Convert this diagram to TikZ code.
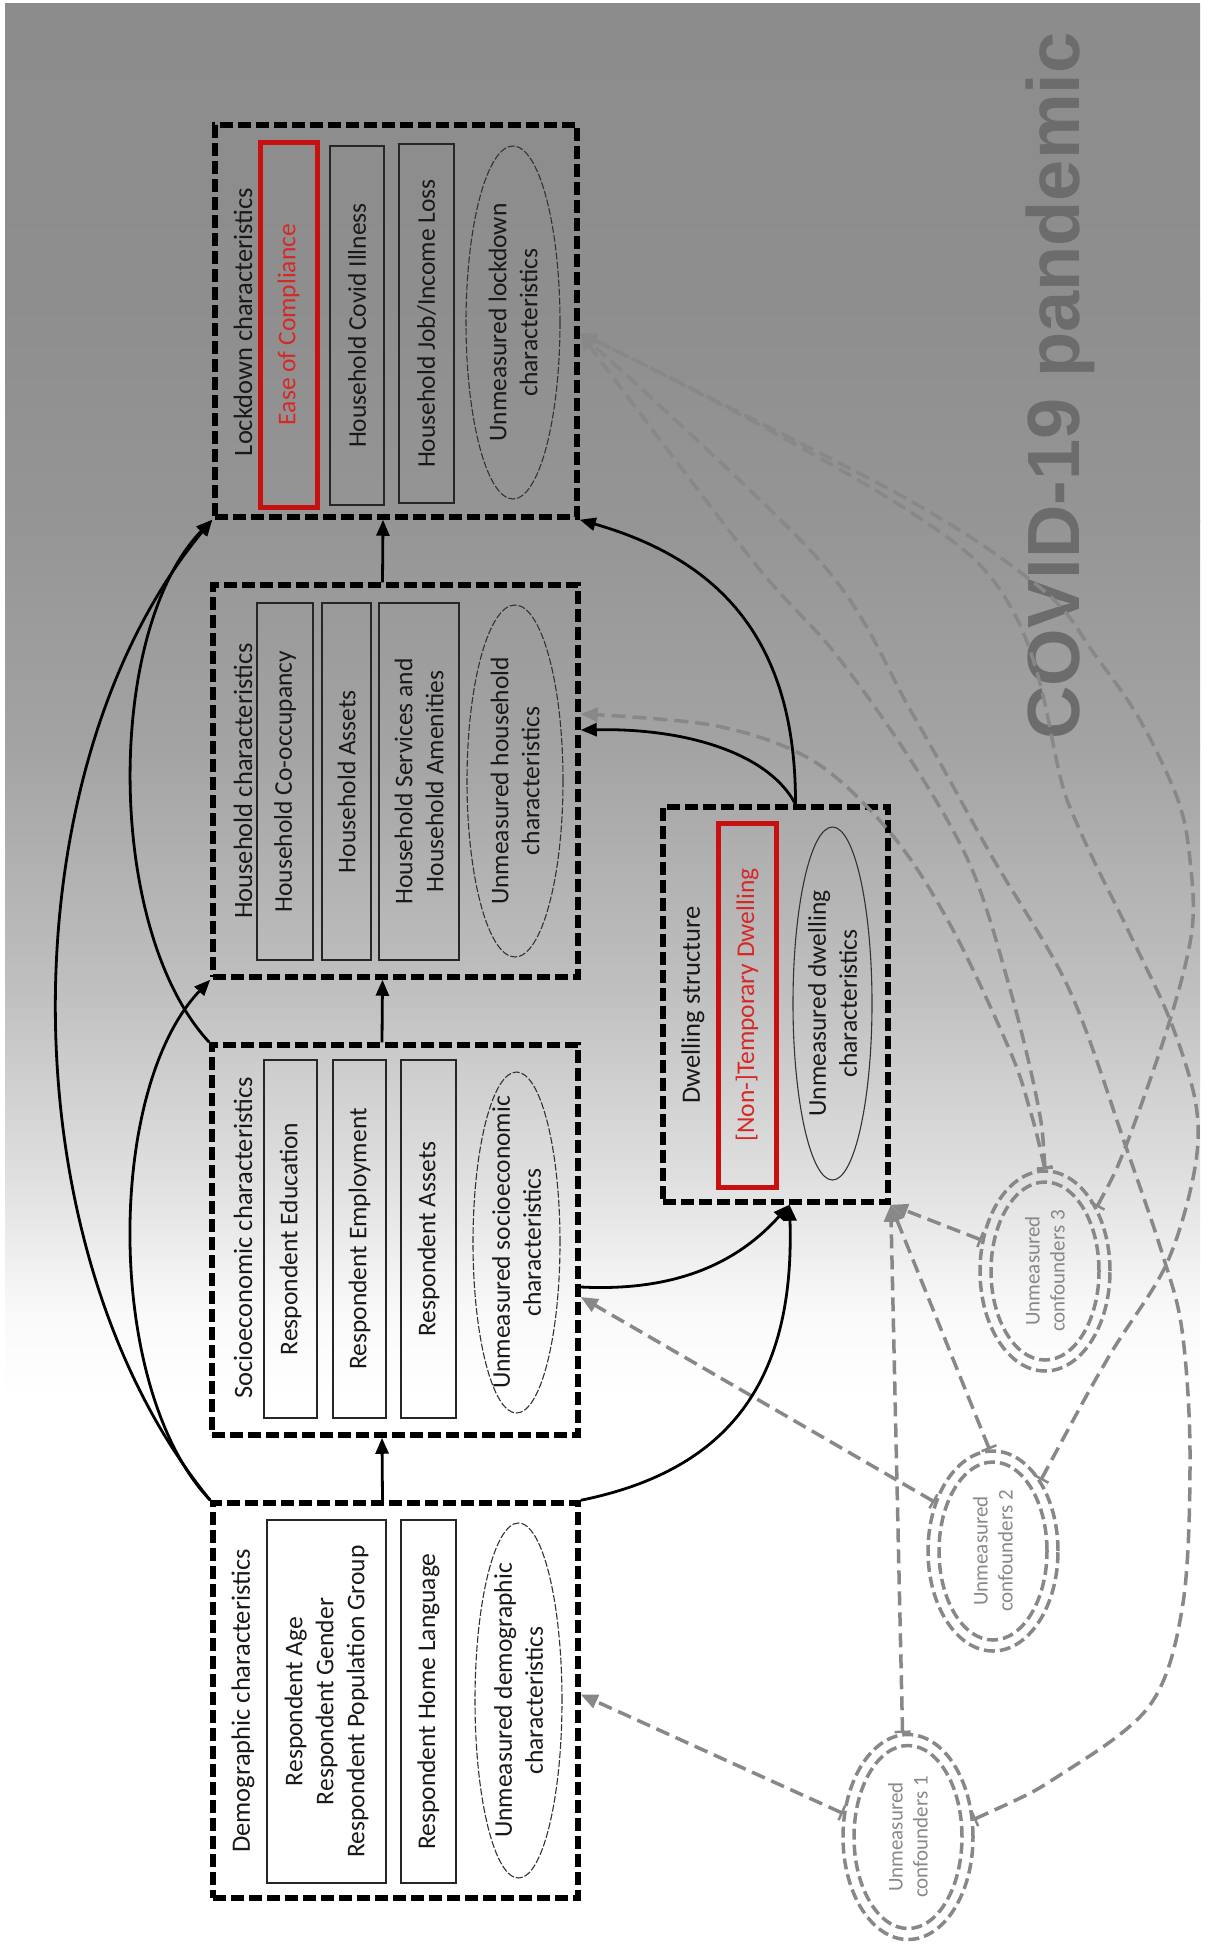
\documentclass[tikz,border=0pt]{standalone}
\usepackage{fontspec}
\setmainfont{Carlito}
\newfontfamily\arialfont{Liberation Sans}
\usetikzlibrary{arrows.meta,shapes.geometric}
\definecolor{bgA}{RGB}{140,140,140}
\definecolor{bgB}{RGB}{142,142,142}
\definecolor{bgC}{RGB}{149,149,149}
\definecolor{bgD}{RGB}{163,163,163}
\definecolor{bgE}{RGB}{192,192,192}
\definecolor{bgF}{RGB}{224,224,224}
\definecolor{bgG}{RGB}{249,249,249}
\definecolor{ucgray}{RGB}{136,136,136}
\definecolor{boxred}{RGB}{200,16,16}
\definecolor{txtred}{RGB}{215,40,40}
\definecolor{textdark}{RGB}{25,25,25}
\definecolor{titlegray}{RGB}{108,108,108}
\newcommand\myitemfont{\fontsize{25.5}{31}\selectfont}
\newcommand\mytitlefont{\fontsize{26.5}{31}\selectfont}
\newcommand\myucfont{\fontsize{21}{25}\selectfont}
\begin{document}
\begin{tikzpicture}[x=1pt,y=-1pt,
  grp/.style={draw=black, line width=5.5pt, dash pattern=on 13pt off 5pt, inner sep=0pt},
  itembox/.style={draw=black!85, line width=1.3pt, rotate=90, inner sep=0pt, align=center, font=\myitemfont, text=textdark},
  redbox/.style={itembox, draw=boxred, line width=5pt, text=txtred},
  unm/.style={ellipse, draw=black!80, line width=1.1pt, dash pattern=on 7pt off 2pt, inner sep=0pt},
  unmtext/.style={rotate=90, align=center, font=\myitemfont, text=textdark},
  grptitle/.style={rotate=90, font=\mytitlefont, text=textdark},
  blk/.style={line width=2.8pt, -{Triangle[length=16pt,width=13pt]}},
  gry/.style={draw=ucgray, line width=3.5pt, dash pattern=on 14pt off 7pt, {Bar[width=16pt,line width=2.5pt]}-{Triangle[length=17pt,width=14pt]}},
  ucring/.style={ellipse, draw=ucgray, line width=3.5pt, dash pattern=on 11pt off 5pt, inner sep=0pt},
  uctext/.style={rotate=90, align=center, font=\myucfont, text=ucgray}
]
\useasboundingbox (0,0) rectangle (1210,1946);
% background
\fill[white] (0,0) rectangle (1210,1946);
\shade[top color=bgA, bottom color=bgB] (5,3) rectangle (1200,301);
\shade[top color=bgB, bottom color=bgC] (5,300) rectangle (1200,521);
\shade[top color=bgC, bottom color=bgD] (5,520) rectangle (1200,746);
\shade[top color=bgD, bottom color=bgE] (5,745) rectangle (1200,994);
\shade[top color=bgE, bottom color=bgF] (5,993) rectangle (1200,1181);
\shade[top color=bgF, bottom color=bgG] (5,1180) rectangle (1200,1311);
\shade[top color=bgG, bottom color=white] (5,1310) rectangle (1200,1400);

% title
\node[rotate=90, font=\arialfont\bfseries\fontsize{74}{74}\selectfont, text=titlegray, inner sep=0pt] (covid) at (1060,386) {COVID-19 pandemic};

% group boxes
\node[grp, minimum width=362, minimum height=392] (lock) at (396,321) {};
\node[grp, minimum width=365, minimum height=392] (hh) at (395.5,781) {};
\node[grp, minimum width=366, minimum height=390] (socio) at (395,1240) {};
\node[grp, minimum width=365, minimum height=395] (dem) at (395.5,1700.5) {};
\node[grp, minimum width=225, minimum height=395] (dwell) at (775.5,1004.5) {};

% lockdown
\node[grptitle] (lockT) at (243,322) {Lockdown characteristics};
\node[redbox, minimum width=365, minimum height=57] (lc1) at (288.5,324.5) {Ease of Compliance};
\node[itembox, minimum width=359, minimum height=54] (lc2) at (357,325.5) {Household Covid Illness};
\node[itembox, minimum width=359, minimum height=55] (lc3) at (426.5,323.5) {Household Job/Income Loss};
\node[unm, minimum width=94, minimum height=353] (lce) at (513,322.5) {};
\node[unmtext] (lcet) at (lce) {Unmeasured lockdown\\characteristics};

% household
\node[grptitle] (hhT) at (243,781) {Household characteristics};
\node[itembox, minimum width=357, minimum height=56] (hc1) at (285,781.5) {Household Co-occupancy};
\node[itembox, minimum width=357, minimum height=49] (hc2) at (346.5,781.5) {Household Assets};
\node[itembox, minimum width=357, minimum height=80] (hc3) at (419,781.5) {Household Services and\\Household Amenities};
\node[unm, minimum width=96, minimum height=352] (hce) at (515,781) {};
\node[unmtext] (hcet) at (hce) {Unmeasured household\\characteristics};

% socioeconomic
\node[grptitle] (socT) at (243,1238) {Socioeconomic characteristics};
\node[itembox, minimum width=358, minimum height=53] (sc1) at (290.5,1239) {Respondent Education};
\node[itembox, minimum width=358, minimum height=53] (sc2) at (359.5,1239) {Respondent Employment};
\node[itembox, minimum width=358, minimum height=55] (sc3) at (428.5,1239) {Respondent Assets};
\node[unm, minimum width=87, minimum height=341] (sce) at (516.5,1242.5) {};
\node[unmtext] (scet) at (sce) {Unmeasured socioeconomic\\characteristics};

% demographic
\node[grptitle] (demT) at (243,1701) {Demographic characteristics};
\node[itembox, minimum width=363, minimum height=119] (dc1) at (326.5,1701.5) {Respondent Age\\Respondent Gender\\Respondent Population Group};
\node[itembox, minimum width=363, minimum height=55] (dc2) at (428.5,1701.5) {Respondent Home Language};
\node[unm, minimum width=87, minimum height=355] (dce) at (518.5,1700.5) {};
\node[unmtext] (dcet) at (dce) {Unmeasured demographic\\characteristics};

% dwelling
\node[grptitle] (dwT) at (693,1005) {Dwelling structure};
\node[redbox, minimum width=364, minimum height=58] (wc1) at (747,1005) {[Non-]Temporary Dwelling};
\node[unm, minimum width=79, minimum height=353, solid] (wce) at (832.5,1003.5) {};
\node[unmtext] (wcet) at (wce) {Unmeasured dwelling\\characteristics};

% unmeasured confounders
\node[ucring, minimum width=130, minimum height=205] (uc1) at (908,1837) {};
\node[ucring, minimum width=108, minimum height=183] (uc1i) at (908,1837) {};
\node[uctext] (uc1t) at (uc1) {Unmeasured\\confounders 1};
\node[ucring, minimum width=130, minimum height=200] (uc2) at (993,1551) {};
\node[ucring, minimum width=108, minimum height=178] (uc2i) at (993,1551) {};
\node[uctext] (uc2t) at (uc2) {Unmeasured\\confounders 2};
\node[ucring, minimum width=130, minimum height=200] (uc3) at (1045,1271) {};
\node[ucring, minimum width=108, minimum height=178] (uc3i) at (1045,1271) {};
\node[uctext] (uc3t) at (uc3) {Unmeasured\\confounders 3};

% connection points on box edges
\coordinate (lockR) at ([yshift=-12pt]lock.east);
\coordinate (hhR) at ([yshift=67pt]hh.east);

% gray dashed connectors
\draw[gry] (uc1.160) -- ([yshift=6pt]dem.east);
\draw[gry] (uc1.93) -- (dwell.south east);
\draw[gry] (uc2.140) -- ([yshift=-57pt]socio.east);
\draw[gry] (uc2.92) -- (dwell.south east);
\draw[gry] (uc3.154) -- (dwell.south east);
\draw[gry] plot[smooth, tension=0.55] coordinates {(uc3.90) (1030,1110) (1010,1051) (952,928) (893,836) (815,762) (717,726) (hhR)};
\draw[gry] plot[smooth, tension=0.55] coordinates {(uc3.90) (1037,1100) (1010,989) (971,867) (912,762) (834,652) (752,560) (lockR)};
\draw[gry] plot[smooth, tension=0.55] coordinates {(uc3.51) (1127,1143) (1170,1020) (1192,930) (1190,860) (1178,800) (1140,720) (1095,655) (1043,590) (900,495) (lockR)};
\draw[gry] plot[smooth, tension=0.55] coordinates {(uc1.15) (1060,1775) (1150,1705) (1183,1603) (1190,1452) (1182,1330) (1163,1256) (1127,1150) (1069,989) (991,855) (912,713) (819,560) (lockR)};
\draw[gry] plot[smooth, tension=0.55] coordinates {(uc2.56) (1108,1358) (1166,1265) (1194,1173) (1196,1105) (1170,1020) (1127,928) (1069,805) (975,560) (lockR)};

% black connectors
\draw[blk] ([xshift=-13pt]dem.north) -- ([xshift=-13pt]socio.south);
\draw[blk] ([xshift=-13pt]socio.north) -- ([xshift=-13pt]hh.south);
\draw[blk] ([xshift=-13pt]hh.north) -- ([xshift=-13pt]lock.south);
\draw[blk] (dem.north west) .. controls (5,1250) and (5,770) .. (lock.south west);
\draw[blk] (socio.north west) .. controls (105,930) and (105,630) .. (lock.south west);
\draw[blk] (dem.north west) .. controls (105,1390) and (105,1090) .. (hh.south west);
\draw[blk] ([yshift=-47pt]socio.east) .. controls (680,1292) and (740,1260) .. ([xshift=14pt]dwell.south);
\draw[blk] (dem.north east) .. controls (730,1470) and (795,1380) .. ([xshift=14pt]dwell.south);
\draw[blk] ([xshift=20pt]dwell.north) .. controls (770,755) and (690,728) .. ([yshift=51pt]hh.east);
\draw[blk] ([xshift=20pt]dwell.north) .. controls (796,640) and (720,560) .. (lock.south east);
\end{tikzpicture}
\end{document}
